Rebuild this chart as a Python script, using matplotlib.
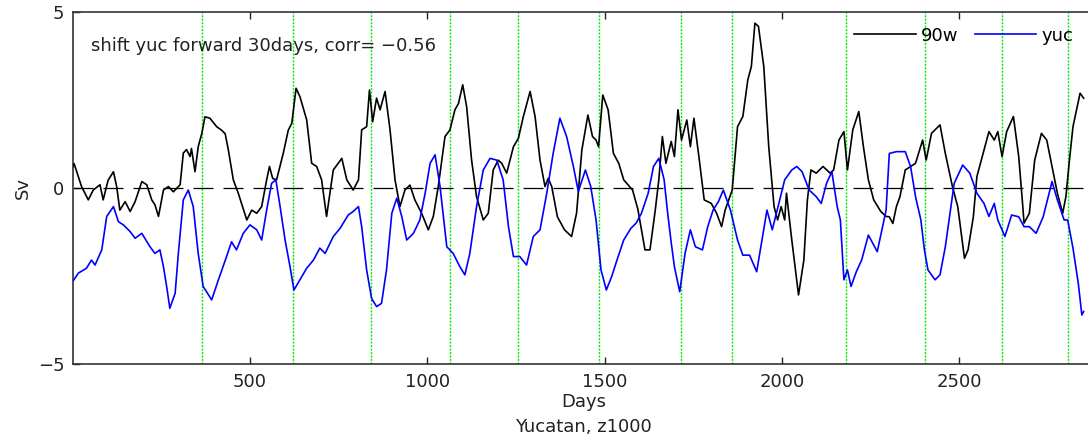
import numpy as np
import matplotlib
matplotlib.use("Agg")
import matplotlib.pyplot as plt

plt.rcParams['font.family'] = ['DejaVu Sans']

# 90w transport (Sv), read at irregular days
day_90w = [0, 4, 11, 25, 44, 58, 77, 86, 100, 115, 124, 133, 148, 162, 176, 195, 209,
           223, 232, 242, 256, 270, 284, 303, 312, 321, 331, 335, 345, 354, 364, 373,
           387, 406, 420, 430, 439, 453, 467, 491, 505, 519, 533, 547, 555, 564, 575,
           594, 608, 618, 630, 641, 660, 674, 688, 702, 716, 735, 759, 773, 791, 806,
           815, 829, 837, 846, 857, 867, 881, 895, 909, 923, 937, 951, 965, 984, 1003,
           1017, 1031, 1050, 1064, 1078, 1088, 1100, 1111, 1125, 1139, 1158, 1172, 1186,
           1200, 1210, 1224, 1243, 1257, 1271, 1290, 1304, 1318, 1332, 1341, 1351, 1367,
           1387, 1407, 1421, 1436, 1453, 1466, 1476, 1483, 1495, 1510, 1525, 1540, 1554,
           1579, 1594, 1614, 1628, 1643, 1653, 1663, 1673, 1688, 1697, 1707, 1717, 1732,
           1742, 1752, 1766, 1781, 1801, 1816, 1830, 1840, 1860, 1875, 1890, 1904, 1914,
           1924, 1934, 1949, 1963, 1978, 1988, 1998, 2008, 2013, 2028, 2047, 2062, 2072,
           2082, 2097, 2116, 2136, 2146, 2161, 2175, 2185, 2200, 2217, 2230, 2244, 2259,
           2279, 2294, 2303, 2313, 2323, 2333, 2348, 2363, 2377, 2397, 2407, 2422, 2446,
           2461, 2481, 2496, 2501, 2515, 2525, 2540, 2550, 2565, 2584, 2599, 2609, 2621,
           2634, 2653, 2668, 2678, 2683, 2698, 2713, 2732, 2747, 2762, 2777, 2792, 2801,
           2811, 2821, 2841, 2851]
sv_90w = [0.6, 0.7, 0.48, 0.05, -0.33, -0.05, 0.1, -0.33, 0.23, 0.47, 0.05, -0.62, -0.38,
          -0.66, -0.38, 0.19, 0.1, -0.33, -0.47, -0.8, -0.05, 0.05, -0.1, 0.1, 1.0, 1.1,
          0.9, 1.13, 0.47, 1.18, 1.55, 2.03, 1.99, 1.75, 1.65, 1.55, 1.09, 0.24, -0.14,
          -0.9, -0.62, -0.71, -0.52, 0.24, 0.62, 0.28, 0.24, 1.0, 1.65, 1.85, 2.84, 2.6,
          1.94, 0.71, 0.62, 0.24, -0.8, 0.52, 0.85, 0.24, -0.05, 0.24, 1.66, 1.75, 2.79,
          1.89, 2.56, 2.23, 2.75, 1.66, 0.24, -0.52, -0.05, 0.09, -0.33, -0.71, -1.18,
          -0.8, 0.05, 1.47, 1.66, 2.23, 2.41, 2.94, 2.32, 0.8, -0.24, -0.9, -0.71, 0.52,
          0.8, 0.71, 0.43, 1.18, 1.42, 2.04, 2.75, 2.04, 0.8, 0.05, 0.28, 0.05, -0.81,
          -1.18, -1.37, -0.71, 1.09, 2.08, 1.47, 1.37, 1.18, 2.65, 2.23, 0.99, 0.71, 0.24,
          -0.05, -0.6, -1.75, -1.75, -0.62, 0.24, 1.47, 0.71, 1.33, 0.9, 2.23, 1.37, 1.94,
          1.18, 1.99, 0.9, -0.33, -0.43, -0.71, -1.09, -0.62, -0.05, 1.75, 2.04, 3.08,
          3.46, 4.69, 4.6, 3.46, 1.18, -0.52, -0.9, -0.52, -0.9, -0.14, -1.47, -3.03,
          -2.04, -0.33, 0.52, 0.43, 0.62, 0.43, 0.52, 1.37, 1.61, 0.52, 1.66, 2.18, 1.18,
          0.24, -0.33, -0.66, -0.8, -0.81, -1.0, -0.52, -0.24, 0.52, 0.62, 0.71, 1.37,
          0.8, 1.56, 1.8, 0.99, 0.05, -0.52, -0.9, -1.99, -1.75, -0.81, 0.33, 0.9, 1.61,
          1.37, 1.61, 0.9, 1.61, 2.04, 0.9, -0.33, -0.99, -0.71, 0.8, 1.56, 1.37, 0.62,
          -0.14, -0.71, -0.24, 0.8, 1.75, 2.7, 2.56]

# Yucatan transport anomaly (Sv), shifted forward 30 days
day_yuc = [0, 16, 39, 53, 63, 82, 96, 115, 129, 143, 162, 176, 195, 218, 232, 246, 256,
           265, 274, 289, 298, 312, 326, 340, 354, 368, 392, 411, 434, 448, 462, 481, 500,
           519, 533, 547, 561, 573, 585, 599, 613, 624, 641, 660, 679, 697, 712, 735, 754,
           777, 791, 806, 815, 829, 843, 857, 871, 885, 900, 914, 928, 942, 961, 979, 994,
           1008, 1022, 1036, 1055, 1073, 1092, 1106, 1120, 1139, 1158, 1177, 1196, 1214,
           1229, 1243, 1261, 1280, 1299, 1318, 1337, 1355, 1374, 1393, 1412, 1426, 1446,
           1461, 1476, 1490, 1505, 1520, 1535, 1554, 1574, 1589, 1604, 1623, 1638, 1653,
           1668, 1678, 1687, 1697, 1712, 1727, 1742, 1756, 1776, 1791, 1806, 1821, 1835,
           1855, 1875, 1890, 1909, 1929, 1944, 1958, 1973, 2008, 2028, 2042, 2057, 2077,
           2097, 2111, 2126, 2141, 2156, 2165, 2175, 2185, 2195, 2210, 2225, 2244, 2269,
           2284, 2294, 2303, 2323, 2348, 2363, 2377, 2392, 2402, 2412, 2432, 2446, 2461,
           2486, 2510, 2530, 2550, 2570, 2584, 2599, 2609, 2629, 2648, 2668, 2683, 2698,
           2717, 2737, 2762, 2777, 2796, 2806, 2821, 2836, 2846, 2851]
sv_yuc = [-2.65, -2.41, -2.27, -2.04, -2.18, -1.75, -0.8, -0.52, -0.95, -1.04, -1.23,
          -1.42, -1.28, -1.66, -1.85, -1.75, -2.23, -2.79, -3.41, -2.98, -1.85, -0.33,
          -0.05, -0.52, -1.85, -2.79, -3.17, -2.6, -1.94, -1.52, -1.75, -1.28, -1.04,
          -1.18, -1.47, -0.62, 0.14, 0.24, -0.52, -1.47, -2.23, -2.89, -2.6, -2.27, -2.04,
          -1.7, -1.85, -1.37, -1.14, -0.76, -0.66, -0.52, -1.09, -2.32, -3.13, -3.36,
          -3.27, -2.32, -0.71, -0.28, -0.8, -1.47, -1.28, -0.9, -0.14, 0.71, 0.95, 0.05,
          -1.66, -1.85, -2.23, -2.46, -1.85, -0.52, 0.52, 0.85, 0.8, 0.24, -1.09, -1.94,
          -1.94, -2.18, -1.37, -1.18, -0.14, 0.99, 1.99, 1.47, 0.62, -0.09, 0.52, 0.05,
          -0.9, -2.32, -2.89, -2.51, -2.04, -1.47, -1.14, -0.99, -0.71, -0.14, 0.62, 0.85,
          0.24, -0.71, -1.47, -2.23, -2.94, -1.85, -1.18, -1.66, -1.75, -1.09, -0.62,
          -0.38, -0.05, -0.62, -1.47, -1.9, -1.9, -2.37, -1.47, -0.62, -1.18, 0.24, 0.52,
          0.62, 0.47, -0.05, -0.24, -0.43, 0.14, 0.47, -0.52, -0.9, -2.6, -2.32, -2.79,
          -2.37, -2.04, -1.33, -1.8, -1.09, -0.62, 0.99, 1.04, 1.04, 0.62, -0.24, -0.9,
          -1.75, -2.32, -2.6, -2.46, -1.66, 0.14, 0.66, 0.43, -0.14, -0.43, -0.8, -0.43,
          -0.9, -1.37, -0.76, -0.81, -1.09, -1.09, -1.28, -0.81, 0.19, -0.33, -0.9, -0.9,
          -1.7, -2.7, -3.6, -3.5]

# days marked with green lines
mark_days = [365, 620, 840, 1065, 1256, 1485, 1715, 1860, 2180, 2405, 2620, 2806]

fig = plt.figure(figsize=(10.88, 4.43), dpi=100)
ax = fig.add_axes([0.0668, 0.1777, 0.9396, 0.7946])

for d in mark_days:
    ax.axvline(d, color='#00ee00', lw=1.0, ls=(0, (1.5, 1)), zorder=1)
ax.axhline(0, color='black', lw=0.9, dashes=(16, 8), zorder=2)

ax.plot(day_90w, sv_90w, color='black', lw=1.2, label='90w', zorder=3)
ax.plot(day_yuc, sv_yuc, color='blue', lw=1.2, label='yuc', zorder=3)

ax.set_xlim(0, 2883)
ax.set_ylim(-5, 5)
ax.set_xticks([500, 1000, 1500, 2000, 2500])
ax.set_yticks([-5, 0, 5])
ax.tick_params(direction='in', length=5, width=1, labelsize=13, top=True,
               colors='#222222', pad=6)
for s in ['left', 'bottom', 'top']:
    ax.spines[s].set_color('#333333')
    ax.spines[s].set_linewidth(1.2)
ax.spines['right'].set_visible(False)

ax.set_xlabel('Days\nYucatan, z1000', fontsize=13, color='#222222', linespacing=1.5,
              labelpad=2)
ax.set_ylabel('Sv', fontsize=13, color='#222222', labelpad=4)

ax.text(0.0175, 0.905, 'shift yuc forward 30days, corr= \u22120.56', transform=ax.transAxes,
        fontsize=13, color='#222222', va='center')

ax.legend(loc='upper right', ncol=2, frameon=False, fontsize=13, handlelength=3.4,
          handletextpad=0.3, columnspacing=0.9, bbox_to_anchor=(0.995, 1.005))

fig.savefig('out.png', dpi=100)
